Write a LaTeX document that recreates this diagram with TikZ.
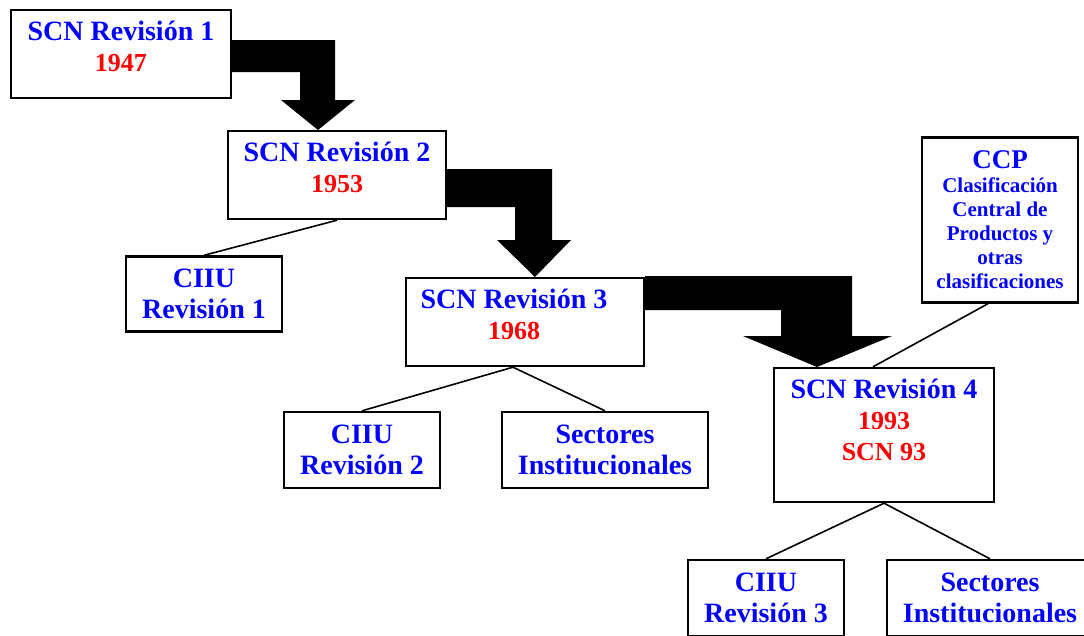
\documentclass[tikz,border=0pt]{standalone}
\usepackage{fontspec}
\setmainfont{Liberation Serif}
\usetikzlibrary{positioning}

\tikzset{
  box/.style={draw,line width=2.4pt,fill=white,inner sep=0pt},
  bluetext/.style={text=myblue,font=\bfseries\fontsize{28}{31}\selectfont,align=center,inner sep=0pt},
  link/.style={line width=1.6pt},
}
\newcommand\yr[1]{{\color{myred}\fontsize{26}{31}\selectfont #1}}

\begin{document}
\begin{tikzpicture}[x=1pt,y=-1pt]

\definecolor{myblue}{rgb}{0,0,1}
\definecolor{myred}{rgb}{1,0,0}

\useasboundingbox (0,0) rectangle (1084,635);

% SCN revisions
\node[box,minimum width=220,minimum height=88] (r1) at (121,54) {};
\node[bluetext,below=12pt of r1.north] (r1t) {SCN Revisión 1\\\yr{1947}};
\node[box,minimum width=218,minimum height=88] (r2) at (337,175) {};
\node[bluetext,below=12pt of r2.north] (r2t) {SCN Revisión 2\\\yr{1953}};
\node[box,minimum width=238,minimum height=88] (r3) at (525,322) {};
\node[bluetext,below=12pt of r3.north,xshift=-11pt] (r3t) {SCN Revisión 3\\\yr{1968}};
\node[box,minimum width=220,minimum height=134] (r4) at (884,435) {};
\node[bluetext,below=12pt of r4.north] (r4t) {SCN Revisión 4\\\yr{1993}\\\yr{SCN 93}};

% clasificaciones
\node[box,bluetext,minimum width=156,minimum height=75] (c1) at (204,294) {CIIU\\Revisión 1};
\node[box,bluetext,minimum width=156,minimum height=76] (c2) at (362,450) {CIIU\\Revisión 2};
\node[box,bluetext,minimum width=206,minimum height=76] (s1) at (605,450) {Sectores\\Institucionales};
\node[box,bluetext,minimum width=156,minimum height=76] (c3) at (766,598) {CIIU\\Revisión 3};
\node[box,bluetext,minimum width=206,minimum height=76] (s2) at (990,598) {Sectores\\Institucionales};
\node[box,bluetext,font=\bfseries\fontsize{21}{24}\selectfont,minimum width=156,minimum height=165] (ccp) at (1000,220)
  {{\fontsize{27}{28}\selectfont CCP}\\Clasificación\\Central de\\Productos y\\otras\\clasificaciones};

% thin links
\draw[link] (r2.south) -- (c1.north);
\draw[link] ([xshift=-12pt]r3.south) -- (c2.north);
\draw[link] ([xshift=-12pt]r3.south) -- (s1.north);
\draw[link] (r4.south) -- (c3.north);
\draw[link] (r4.south) -- (s2.north);
\draw[link] ([xshift=-12pt]ccp.south) -- ([xshift=-11pt]r4.north);

% big arrows
\fill (r1.east |- 0,40) -- (335,40) -- (335,100) -- (355,100) -- (318,130)
  -- (281,100) -- (300,100) -- (300,72) -- (r1.east |- 0,72) -- cycle;
\fill (r2.east |- 0,169) -- (552,169) -- (552,240) -- (571,240) -- (535,277)
  -- (497,240) -- (515,240) -- (515,207) -- (r2.east |- 0,207) -- cycle;
\fill (r3.east |- 0,276) -- (852,276) -- (852,336) -- (892,336) -- (817,367)
  -- (743,336) -- (781,336) -- (781,310) -- (r3.east |- 0,310) -- cycle;

\end{tikzpicture}
\end{document}
